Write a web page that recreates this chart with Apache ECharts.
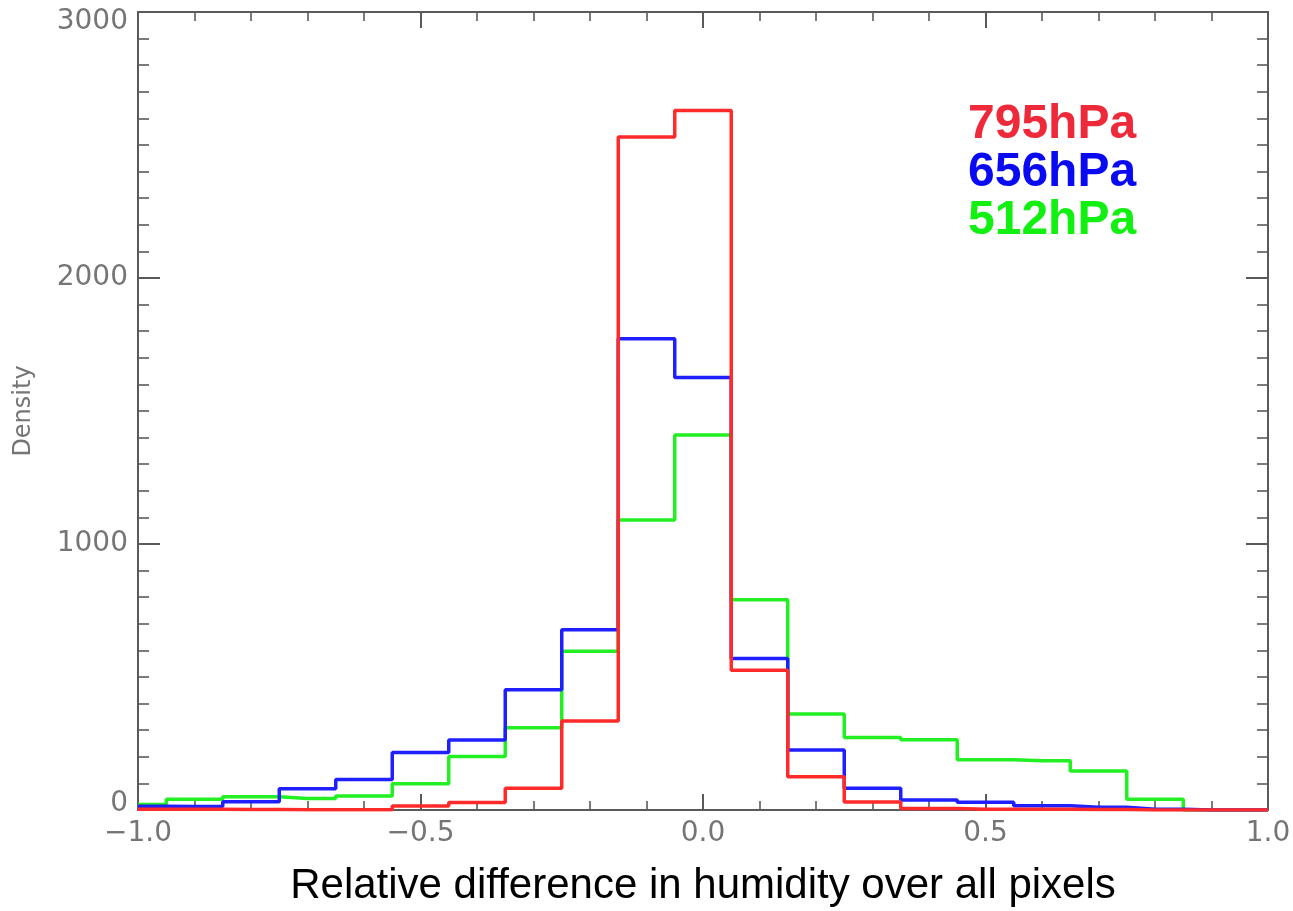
<!DOCTYPE html>
<html>
<head>
<meta charset="utf-8">
<script src="https://cdn.jsdelivr.net/npm/echarts@6/dist/echarts.min.js"></script>
<style>
  html, body { margin: 0; padding: 0; background: #ffffff; }
  #chart { width: 1293px; height: 911px; }
</style>
</head>
<body>
<div id="chart"></div>
<script>
// Bin centres (relative difference), histogram drawn as IDL-style steps
const binCenters = [-1.0, -0.9, -0.8, -0.7, -0.6, -0.5, -0.4, -0.3, -0.2, -0.1, 0.0,
                     0.1, 0.2, 0.3, 0.4, 0.5, 0.6, 0.7, 0.8, 0.9, 1.0];
// Density values
const red795  = [3, 3, 2, 1, 1, 15, 28, 82, 335, 2530, 2630, 525, 125, 30, 6, 3, 3, 2, 0, 0, 0];
const blue656 = [14, 13, 31, 80, 115, 216, 263, 452, 678, 1772, 1626, 570, 226, 82, 38, 29, 16, 10, 3, 0, 0];
const green512 = [21, 40, 50, 43, 53, 99, 201, 309, 597, 1090, 1410, 790, 361, 273, 264, 189, 185, 147, 40, 0, 0];

const seriesNames = ['795hPa', '656hPa', '512hPa'];
const lineColors = ['#ff2a2a', '#1f1fff', '#22f022'];
const legendColors = ['#ee2a3a', '#0a0af2', '#12f012'];
const yTicks = [0, 1000, 2000, 3000];
const xTicks = [-1.0, -0.5, 0.0, 0.5, 1.0];

function pairs(vals) { return binCenters.map((x, i) => [x, vals[i]]); }

const chart = echarts.init(document.getElementById('chart'), null, { renderer: 'canvas' });

const axisGray = '#5a5a5a';
const labelGray = '#757575';

function xAxisCfg(pos, showLabel) {
  return {
    type: 'value', position: pos, min: xTicks[0], max: xTicks[xTicks.length - 1], interval: 0.5,
    axisLine: { show: true, onZero: false, lineStyle: { color: axisGray, width: 2 } },
    axisTick: { show: true, inside: true, length: 16, lineStyle: { color: axisGray, width: 2 } },
    minorTick: { show: true, splitNumber: 5, length: 9, lineStyle: { color: axisGray, width: 1.6 } },
    splitLine: { show: false },
    axisLabel: {
      show: showLabel, margin: 10, fontSize: 28, color: labelGray, fontFamily: 'DejaVu Sans',
      formatter: v => v.toFixed(1).replace('-', '\u2212')
    },
    name: showLabel ? 'Relative difference in humidity over all pixels' : '',
    nameLocation: 'middle', nameGap: 55,
    nameTextStyle: { fontSize: 42, color: '#000000', fontFamily: 'Liberation Sans' }
  };
}
const labelText = { fontSize: 28, color: labelGray, fontFamily: 'DejaVu Sans' };
function yAxisCfg(pos, showLabel) {
  return {
    type: 'value', position: pos, min: yTicks[0], max: yTicks[yTicks.length - 1], interval: 1000,
    axisLine: { show: true, onZero: false, lineStyle: { color: axisGray, width: 2 } },
    axisTick: { show: true, inside: true, length: 22, lineStyle: { color: axisGray, width: 2 } },
    minorTick: { show: true, splitNumber: 10, length: 11, lineStyle: { color: axisGray, width: 1.6 } },
    splitLine: { show: false },
    axisLabel: Object.assign({
      show: showLabel, margin: 10,
      formatter: v => v === yTicks[yTicks.length - 1] ? '{t|' + v + '}' : (v === yTicks[0] ? '{b|' + v + '}' : String(v)),
      rich: {
        t: Object.assign({ padding: [20, 0, 0, 0] }, labelText),
        b: Object.assign({ padding: [0, 0, 12, 0] }, labelText)
      }
    }, labelText),
    name: showLabel ? 'Density' : '',
    nameLocation: 'middle', nameGap: 102,
    nameTextStyle: { fontSize: 24, color: labelGray, fontFamily: 'DejaVu Sans' }
  };
}

const series = [red795, blue656, green512].map((vals, i) => ({
  name: seriesNames[i], type: 'line', step: 'middle', showSymbol: false, symbol: 'none',
  xAxisIndex: 0, yAxisIndex: 0, data: pairs(vals),
  lineStyle: { color: lineColors[i], width: 3.5 }, itemStyle: { color: lineColors[i] },
  z: 10 - i, animation: false
}));

chart.setOption({
  backgroundColor: '#ffffff',
  animation: false,
  grid: { left: 138, right: 25, top: 12, bottom: 101, containLabel: false, outerBoundsMode: 'none' },
  legend: {
    orient: 'vertical', left: 958, top: 96, icon: 'none', itemWidth: 0, itemHeight: 10, itemGap: 0,
    selectedMode: false,
    textStyle: { fontSize: 48, fontWeight: 'bold', fontFamily: 'Liberation Sans', lineHeight: 48 },
    data: seriesNames.map((n, i) => ({ name: n, textStyle: { color: legendColors[i] } }))
  },
  xAxis: [xAxisCfg('bottom', true), xAxisCfg('top', false)],
  yAxis: [yAxisCfg('left', true), yAxisCfg('right', false)],
  series: series
});
</script>
</body>
</html>
